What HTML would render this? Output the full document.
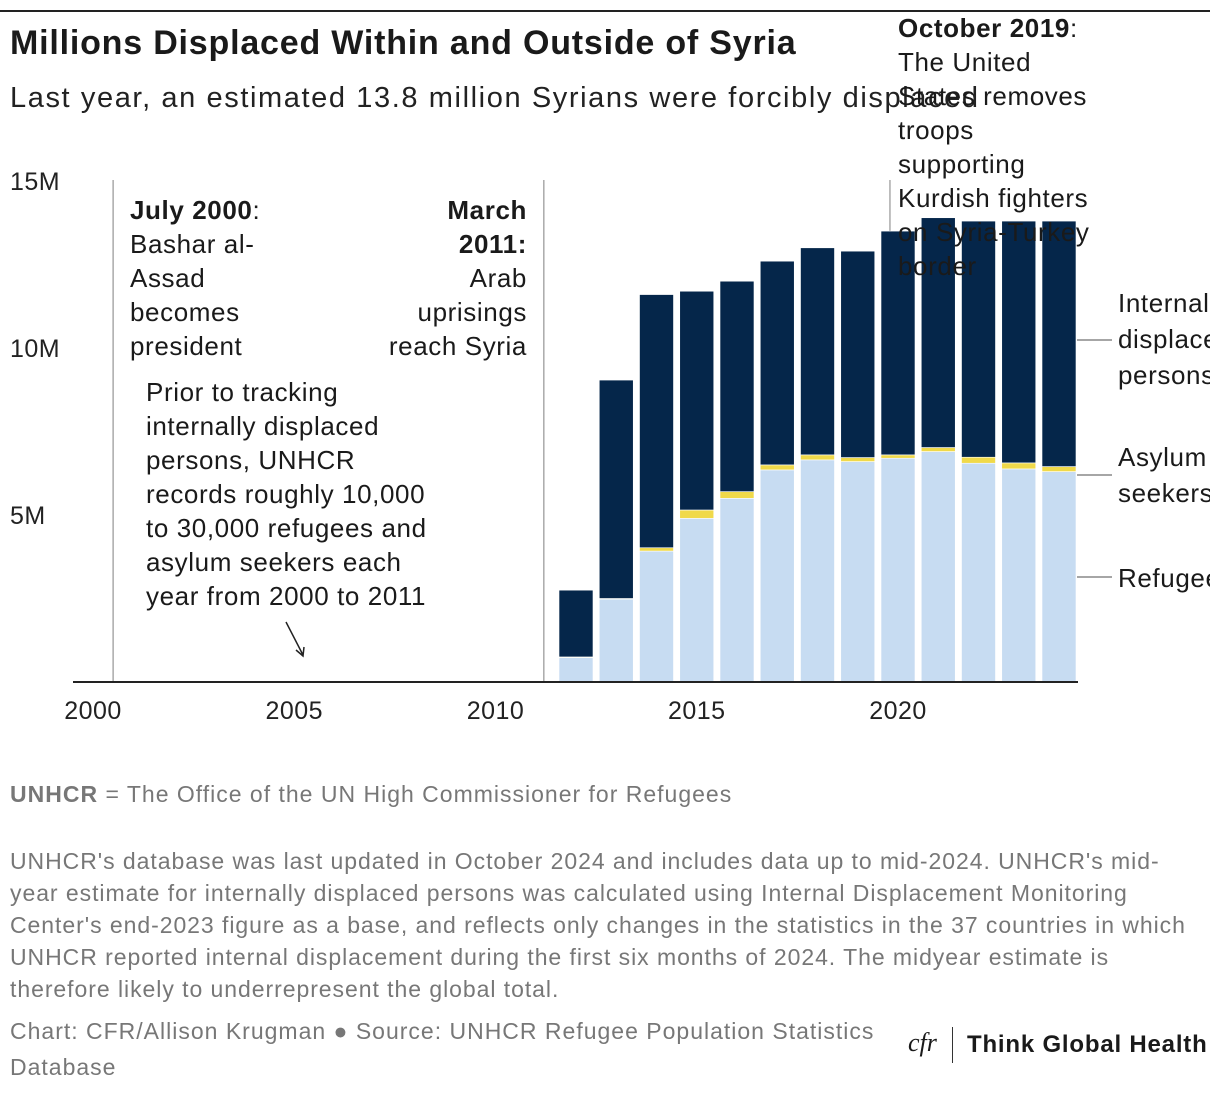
<!DOCTYPE html>
<html><head><meta charset="utf-8"><style>
body{margin:0;background:#fff;font-family:"Liberation Sans",sans-serif;color:#1a1a1a}
#wrap{position:relative;width:1210px;height:1096px;overflow:hidden}
.t{position:absolute;white-space:nowrap}
</style></head><body>
<div id="wrap">
<div class="t" style="left:0;top:10px;width:1210px;height:2px;background:#222"></div>
<div class="t" style="left:10px;top:24px;font-size:34px;font-weight:bold;letter-spacing:0.8px">Millions Displaced Within and Outside of Syria</div>
<div class="t" style="left:10px;top:82px;font-size:29px;color:#222;letter-spacing:1.6px">Last year, an estimated 13.8 million Syrians were forcibly displaced</div>
<svg id="chart" width="1210" height="760" style="position:absolute;left:0;top:0"></svg>
<div class="t" style="left:10px;top:781px;font-size:23px;color:#777;letter-spacing:1px"><b>UNHCR</b> = The Office of the UN High Commissioner for Refugees</div>
<div class="t" style="left:10px;top:845px;font-size:23px;color:#777;line-height:32px;white-space:normal;width:1195px;letter-spacing:0.95px">UNHCR's database was last updated in October 2024 and includes data up to mid-2024. UNHCR's mid-&#8203;year estimate for internally displaced persons was calculated using Internal Displacement Monitoring Center's end-2023 figure as a base, and reflects only changes in the statistics in the 37 countries in which UNHCR reported internal displacement during the first six months of 2024. The midyear estimate is therefore likely to underrepresent the global total.</div>
<div class="t" style="left:10px;top:1013px;font-size:23px;color:#777;line-height:36px;white-space:normal;width:890px;letter-spacing:1px">Chart: CFR/Allison Krugman ● Source: UNHCR Refugee Population Statistics Database</div>
<div class="t" style="left:908px;top:1028px;font-size:26px;font-family:'Liberation Serif',serif;font-style:italic">cfr</div>
<div class="t" style="left:952px;top:1027px;width:1px;height:36px;background:#333"></div>
<div class="t" style="left:967px;top:1031px;font-size:24px;font-weight:bold;letter-spacing:0.8px">Think Global Health</div>
</div>
<script>
const years=[2012,2013,2014,2015,2016,2017,2018,2019,2020,2021,2022,2023,2024];
const refugees=[0.73,2.48,3.92,4.9,5.5,6.35,6.65,6.6,6.7,6.9,6.55,6.38,6.3];
const asylum=[0.02,0.02,0.1,0.25,0.2,0.15,0.15,0.12,0.1,0.12,0.18,0.18,0.15];
const idps=[2.0,6.54,7.58,6.55,6.3,6.1,6.2,6.18,6.7,6.88,7.07,7.24,7.35];
const yTicks=[5,10,15];
const yTickLabels=["5M","10M","15M"];
const xTicks=[2000,2005,2010,2015,2020];
const NS="http://www.w3.org/2000/svg";
const svg=document.getElementById('chart');
const X=y=>93+(y-2000)*40.25;
const Y=v=>682-v*33.4;
function el(tag,a,name,txt){const e=document.createElementNS(NS,tag);for(const k in a)e.setAttribute(k,a[k]);


if(txt!==undefined)e.textContent=txt;svg.appendChild(e);return e;}
yTicks.forEach((t,i)=>{el('text',{x:10,y:Y(t)+9,'font-size':25,fill:'#222','letter-spacing':0.5},'y-tick-label',yTickLabels[i]);});
xTicks.forEach(t=>{el('text',{x:X(t),y:719,'font-size':25,fill:'#222','text-anchor':'middle','letter-spacing':0.5},'x-tick-label',String(t));});
[[2000.5,'event-line-2000'],[2011.2,'event-line-2011'],[2019.8,'event-line-2019']].forEach(d=>{el('line',{x1:X(d[0]),x2:X(d[0]),y1:180,y2:682,stroke:'#aaa','stroke-width':1.5},d[1]);});
const w=34;
years.forEach((yr,i)=>{
 const x=X(yr)-w/2;let b=0;
 [[refugees[i],'#c7dcf2','bar-refugees-'+yr],[asylum[i],'#f0d94a','bar-asylum-'+yr],[idps[i],'#05264a','bar-idps-'+yr]].forEach(s=>{
  el('rect',{x:x,y:Y(b+s[0]),width:w,height:Math.max(0,Y(b)-Y(b+s[0])),fill:s[1],stroke:'#fff','stroke-width':0.6},s[2]);b+=s[0];});
});
el('line',{x1:73,x2:1078,y1:682,y2:682,stroke:'#222','stroke-width':2},'x-axis-line');
[[340,'leader-idps'],[475,'leader-asylum'],[577,'leader-refugees']].forEach(d=>{el('line',{x1:1077,x2:1112,y1:d[0],y2:d[0],stroke:'#888','stroke-width':1.5},d[1]);});
function lines(x,y,arr,name,anchor,lh){arr.forEach((s,i)=>{const t=el('text',{x:x,y:y+i*lh,'font-size':26,fill:'#1a1a1a','text-anchor':anchor||'start','letter-spacing':0.6},name);t.innerHTML=s;});}
lines(1118,312,["Internally","displaced","persons"],'label-idps','start',36);
lines(1118,466,["Asylum","seekers"],'label-asylum','start',36);
lines(1118,587,["Refugees"],'label-refugees','start',36);
lines(130,219,["<tspan font-weight='bold'>July 2000</tspan>:","Bashar al-","Assad","becomes","president"],'annotation-2000','start',34);
lines(527,219,["<tspan font-weight='bold'>March</tspan>","<tspan font-weight='bold'>2011:</tspan>","Arab","uprisings","reach Syria"],'annotation-2011','end',34);
lines(898,37,["<tspan font-weight='bold'>October 2019</tspan>:","The United","States removes","troops","supporting","Kurdish fighters","on Syria-Turkey","border"],'annotation-2019','start',34);
lines(146,401,["Prior to tracking","internally displaced","persons, UNHCR","records roughly 10,000","to 30,000 refugees and","asylum seekers each","year from 2000 to 2011"],'annotation-prior','start',34);
el('path',{d:'M286 622 L303 655 M296 650 L303 656 L304 647',stroke:'#222','stroke-width':1.5,fill:'none'},'annotation-arrow');
</script>
</body></html>
